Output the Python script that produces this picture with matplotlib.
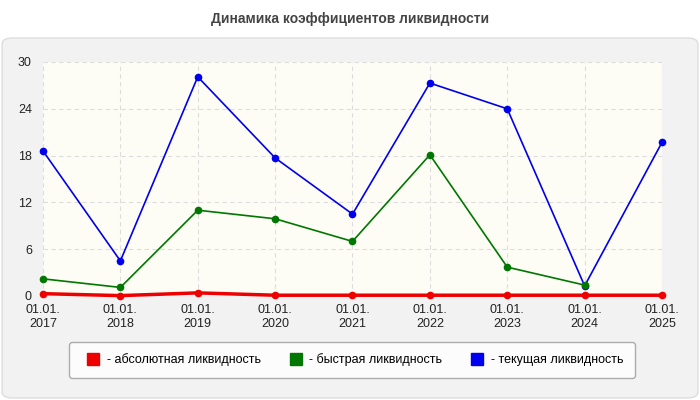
import matplotlib
matplotlib.use("Agg")
import matplotlib.pyplot as plt
from matplotlib.patches import FancyBboxPatch
from matplotlib.lines import Line2D

plt.rcParams["font.family"] = "Liberation Sans"

labels = ["01.01.\n2017","01.01.\n2018","01.01.\n2019","01.01.\n2020","01.01.\n2021","01.01.\n2022","01.01.\n2023","01.01.\n2024","01.01.\n2025"]
absolute = [0.3, 0.05, 0.4, 0.1, 0.1, 0.1, 0.1, 0.1, 0.1]
quick = [2.2, 1.1, 11.0, 9.9, 7.0, 18.1, 3.7, 1.4]
current = [18.6, 4.5, 28.1, 17.7, 10.5, 27.3, 24.0, 1.3, 19.7]
yticks = [0, 6, 12, 18, 24, 30]

fig = plt.figure(figsize=(7, 4), dpi=100)
fig.patch.set_facecolor("white")
panel = FancyBboxPatch((0.003, 0.005), 0.994, 0.9, boxstyle="round,pad=0,rounding_size=0.015",
                       transform=fig.transFigure, facecolor="#f2f2f2", edgecolor="#dddddd", lw=1, zorder=-10)
fig.patches.append(panel)
fig.text(0.5, 0.952, "Динамика коэффициентов ликвидности", ha="center", va="center",
         fontsize=10, fontweight="bold", color="#444444")

ax = fig.add_axes([43/700, 1-296/400, (662-43)/700, (296-62)/400])
ax.set_facecolor("#fdfdf6")
x = list(range(len(labels)))
ax.plot(x, current, color="#0000ee", marker="o", ms=4.5, lw=1.2, zorder=3, clip_on=False)
ax.plot(x[:len(quick)], quick, color="#007700", marker="o", ms=4.5, lw=1.2, zorder=3, clip_on=False)
ax.plot(x, absolute, color="#ee0000", marker="o", ms=4.5, lw=2.5, zorder=4, clip_on=False)
ax.set_xlim(0, 8)
ax.set_ylim(0, 30)
ax.set_yticks(yticks)
ax.set_xticks(x)
ax.set_xticklabels(labels, fontsize=9)
ax.tick_params(labelsize=9, length=0, colors="#222222")
ax.tick_params(axis="x", pad=6)
ax.tick_params(axis="y", pad=8)
ax.grid(True, color="#dddddd", ls=(0, (4, 3)), lw=0.8)
for s in ax.spines.values():
    s.set_visible(False)
ax.axhline(0, color="#999999", lw=0.8)

handles = [Line2D([], [], color=c, lw=0, marker="s", ms=9) for c in ["#ee0000", "#007700", "#0000ee"]]
fig.legend(handles, ["- абсолютная ликвидность", "- быстрая ликвидность", "- текущая ликвидность"],
           loc="center", bbox_to_anchor=(0.503, 0.1), ncol=3, fontsize=9, frameon=True,
           edgecolor="#999999", fancybox=True, handletextpad=0.1, columnspacing=1.8,
           borderpad=0.9, facecolor="white")
fig.savefig("out.png", dpi=100)
